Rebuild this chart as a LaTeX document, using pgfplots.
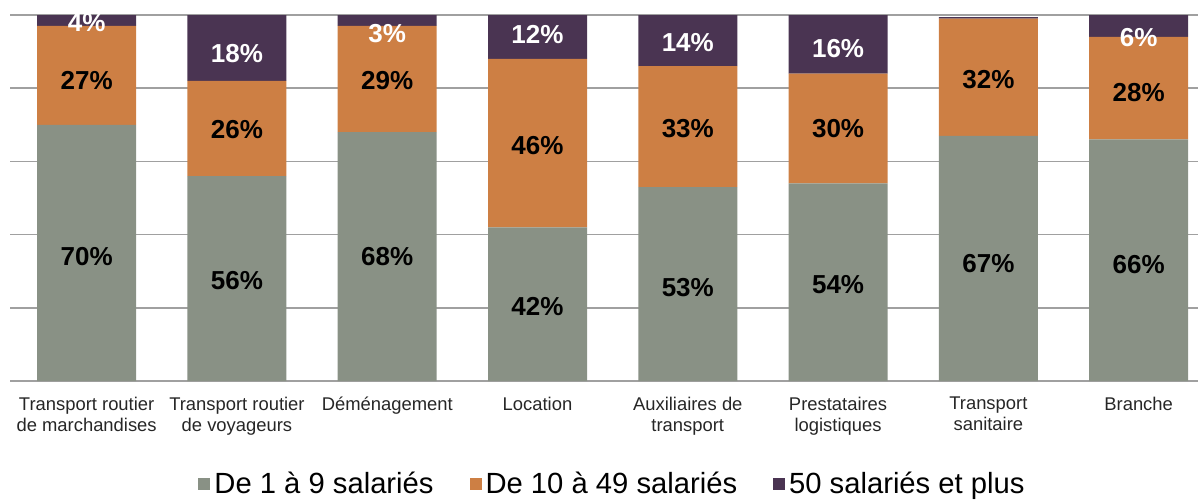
\documentclass[border=0pt]{standalone}
\usepackage{fontspec}
\setmainfont{Liberation Sans}
\usepackage{pgfplots}
\pgfplotsset{compat=1.18}
\definecolor{cgreen}{RGB}{137,145,133}
\definecolor{corange}{RGB}{205,127,68}
\definecolor{cpurple}{RGB}{74,52,82}
\definecolor{cgrid}{RGB}{160,160,160}
\begin{document}
\begin{tikzpicture}
\path[use as bounding box] (-5pt,-59pt) rectangle (594pt,190.5pt);
\pgfplotsset{
  common/.style={
    at={(0,0)}, anchor=south west,
    scale only axis, width=594pt, height=183pt,
    xmin=-0.51, xmax=7.395, ymin=0, ymax=100,
  }
}
\begin{axis}[common,
  ybar stacked, bar width=49.5pt,
  axis line style={draw=none},
  ytick={0,20,40,60,80,100}, yticklabels={},
  ymajorgrids, grid style={draw=cgrid, line width=0.8pt},
  axis on top=false,
  major tick length=0pt,
  xtick={0,...,7},
  xticklabels={{Transport routier\\de marchandises},{Transport routier\\de voyageurs},{Déménagement},{Location},{Auxiliaires de\\transport},{Prestataires\\logistiques},{Transport\\sanitaire},{Branche}},
  xticklabel style={align=center, font=\fontsize{9.2}{10.5}\selectfont, text=black!85, yshift=-4.5pt},
  legend style={at={(0.508,-0.281)}, anchor=center, draw=none, fill=none,
    legend columns=3, font=\fontsize{14.6}{16}\selectfont,
    /tikz/every even column/.append style={column sep=16pt}},
  legend image code/.code={\fill[#1] (0pt,-3pt) rectangle (6pt,3pt);},
  legend cell align=left,
]
\addplot[fill=cgreen, draw=none] coordinates {(0,70) (1,56) (2,68) (3,42) (4,53) (5,54) (6,67) (7,66)};
\addplot[fill=corange, draw=none] coordinates {(0,27) (1,26) (2,29) (3,46) (4,33) (5,30) (6,32) (7,28)};
\addplot[fill=cpurple, draw=none] coordinates {(0,4) (1,18) (2,3) (3,12) (4,14) (5,16) (6,0.4) (7,6)};
\legend{De 1 à 9 salariés,De 10 à 49 salariés,50 salariés et plus}
\end{axis}
\begin{axis}[common, hide axis, clip=false]
\addplot[draw=none, mark=none, nodes near coords, point meta=explicit symbolic,
  nodes near coords style={anchor=center, yshift=-0.7pt, font=\bfseries\fontsize{13}{13}\selectfont, text=black}]
  coordinates {(0,34.5)[70\%] (1,27.9)[56\%] (2,34.5)[68\%] (3,20.8)[42\%] (4,26)[53\%] (5,26.8)[54\%] (6,32.6)[67\%] (7,32.3)[66\%]
  (0,82.5)[27\%] (1,69)[26\%] (2,82.5)[29\%] (3,64.7)[46\%] (4,69.3)[33\%] (5,69.3)[30\%] (6,82.7)[32\%] (7,79.2)[28\%]};
\addplot[draw=none, mark=none, nodes near coords, point meta=explicit symbolic,
  nodes near coords style={anchor=center, yshift=-0.7pt, font=\bfseries\fontsize{13}{13}\selectfont, text=white}]
  coordinates {(0,98.4)[4\%] (1,89.9)[18\%] (2,95.3)[3\%] (3,95.1)[12\%] (4,92.9)[14\%] (5,91.2)[16\%] (7,94.2)[6\%]};
\end{axis}
\end{tikzpicture}
\end{document}
